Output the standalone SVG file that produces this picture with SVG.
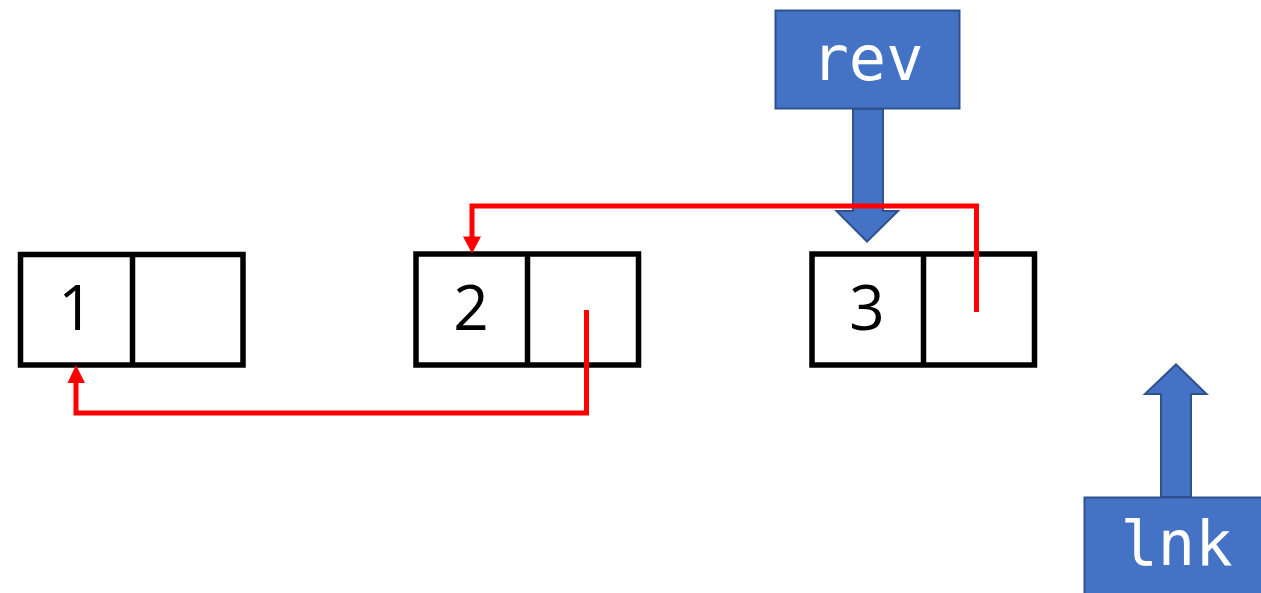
<svg xmlns="http://www.w3.org/2000/svg" width="1261" height="593" viewBox="0 0 1261 593">
  <style>
    .cell { fill: #ffffff; stroke: #000000; stroke-width: 5.5; }
    .val { font-family: "Open Sans", "Noto Sans", "Liberation Sans", sans-serif; font-size: 62px; fill: #000000; text-anchor: middle; }
    .ptr { fill: #4472C4; stroke: #2F528F; stroke-width: 2; }
    .ptrtext { font-family: "DejaVu Sans Mono", "Liberation Mono", monospace; font-size: 62px; fill: #ffffff; text-anchor: middle; }
    .link { fill: none; stroke: #FF0000; stroke-width: 5; stroke-linejoin: miter; }
    .head { fill: #FF0000; }
  </style>

  <!-- list nodes: value cell + next cell -->
  <g id="node1">
    <rect class="cell" x="20.5" y="254.5" width="222.5" height="110.5"/>
    <line class="cell" x1="132.5" y1="254.5" x2="132.5" y2="365"/>
    <text class="val" x="76" y="330">1</text>
  </g>
  <g id="node2">
    <rect class="cell" x="416" y="254" width="222.5" height="111"/>
    <line class="cell" x1="527.5" y1="254" x2="527.5" y2="365"/>
    <text class="val" x="471" y="330">2</text>
  </g>
  <g id="node3">
    <rect class="cell" x="812" y="254" width="222.5" height="111"/>
    <line class="cell" x1="923.5" y1="254" x2="923.5" y2="365"/>
    <text class="val" x="867" y="330">3</text>
  </g>

  <!-- pointer variables -->
  <g id="rev">
    <path class="ptr" d="M853,109 L883,109 L883,211 L898,211 L867,241.5 L836.5,211 L853,211 Z"/>
    <rect class="ptr" x="775.5" y="10.5" width="184" height="98"/>
    <text class="ptrtext" x="867.5" y="80">rev</text>
  </g>
  <g id="lnk">
    <path class="ptr" d="M1161,497 L1191,497 L1191,394 L1206.5,394 L1176,364.5 L1145,394 L1161,394 Z"/>
    <rect class="ptr" x="1084.5" y="497.5" width="185" height="100"/>
    <text class="ptrtext" x="1176.5" y="565">lnk</text>
  </g>

  <!-- next pointers -->
  <g id="connectors">
    <polyline class="link" points="586.5,310 586.5,413 76,413 76,382"/>
    <polygon class="head" points="67.5,383 85,383 76,365"/>
    <polyline class="link" points="976.5,312 976.5,206 472,206 472,238"/>
    <polygon class="head" points="463,236.5 481,236.5 472,253.5"/>
  </g>
</svg>
